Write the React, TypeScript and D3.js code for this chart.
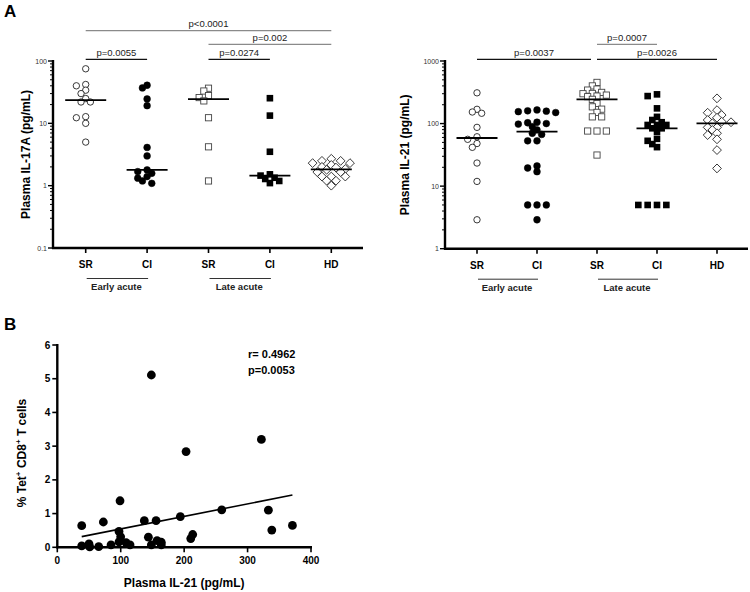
import React from "react";
import * as d3 from "d3";

const FONT = "Arial, 'Liberation Sans', Helvetica, sans-serif";

// ---------- Panel A data ----------
const groupKeys = ["ESR", "ECI", "LSR", "LCI", "HD"];
const groupTickLabels = ["SR", "CI", "SR", "CI", "HD"];
const groupMarkers = ["circleOpen", "circleFilled", "squareOpen", "squareFilled", "diamondOpen"];
const phases = [
  { label: "Early acute", from: "ESR", to: "ECI" },
  { label: "Late acute", from: "LSR", to: "LCI" },
];

const il17EarlySR = [75, 42, 40, 34, 30, 25, 22, 22, 12.8, 12.3, 10, 5];
const il17EarlyCI = [40.8, 37, 24.6, 19.2, 4.1, 3.0, 1.79, 1.68, 1.58, 1.4, 1.32, 1.19, 1.09];
const il17LateSR = [36.6, 33, 27.9, 25.9, 22.9, 12.3, 4.2, 1.19];
const il17LateCI = [25.3, 13.3, 3.5, 1.52, 1.45, 1.34, 1.28, 1.19, 1.1];
const il17HD = [2.7, 2.5, 2.5, 2.3, 2.3, 2.15, 2.0, 1.95, 1.85, 1.8, 1.65, 1.65, 1.4, 1.4, 1.4, 1.2, 1.2, 1.0];
const il17Ticks = [0.1, 1, 10, 100];
const il17Brackets = [
  { from: "ESR", to: "HD", label: "p<0.0001", level: 0, gray: true },
  { from: "LSR", to: "HD", label: "p=0.002", level: 1, gray: true },
  { from: "ESR", to: "ECI", label: "p=0.0055", level: 2, gray: false },
  { from: "LSR", to: "LCI", label: "p=0.0274", level: 2, gray: false },
];

const il21EarlySR = [310, 169, 153, 146, 87, 61.5, 56, 48, 41.7, 23.4, 11.9, 2.9];
const il21EarlyCI = [165, 160, 158, 155, 150, 105, 103, 100, 98, 89, 79, 70, 67, 53, 53, 21, 19.5, 17, 5, 5, 5, 2.9];
const il21LateSR = [455, 400, 356, 343, 315, 303, 300, 285, 275, 269, 244, 210, 185, 170, 151, 128, 128, 76, 76, 76, 31.4];
const il21LateCI = [293, 275, 175, 128, 114, 105, 95, 95, 95, 84, 84, 74, 57, 53, 47, 42, 5, 5, 5, 5];
const il21HD = [253, 164, 149, 137, 124, 114, 107, 105, 101, 87, 87, 79, 70, 65.5, 56, 37.7, 19.2];
const il21Ticks = [1, 10, 100, 1000];
const il21Brackets = [
  { from: "ESR", to: "LSR", label: "p=0.0037", level: 2, gray: false },
  { from: "LSR", to: "LCI", label: "p=0.0007", level: 1, gray: true },
  { from: "LSR", to: "HD", label: "p=0.0026", level: 2, gray: false },
];

// ---------- Panel B data ----------
const bIl21 = [148.3, 321.8, 203, 98.9, 259.3, 332.8, 194, 137.2, 155.7, 72.6, 38.5, 370.7, 338.2, 97.3, 99.9, 143.6, 213.5, 210.4, 97.3, 157.3, 164, 38.5, 50, 51.1, 65.3, 84.7, 108.4, 114.7, 148.3, 164];
const bTet = [5.11, 3.2, 2.84, 1.38, 1.11, 1.1, 0.91, 0.79, 0.79, 0.75, 0.64, 0.65, 0.51, 0.47, 0.31, 0.3, 0.38, 0.26, 0.16, 0.2, 0.15, 0.04, 0.1, 0.01, 0.02, 0.07, 0.14, 0.07, 0.07, 0.07];
const bXTicks = [0, 100, 200, 300, 400];
const bYTicks = [0, 1, 2, 3, 4, 5, 6];
const bStats = ["r= 0.4962", "p=0.0053"];

const levelY = [30.7, 44.3, 59.3];

function swarm(values: number[], yScale: any, step: number, D: number) {
  const pts = values.map((v, i) => ({ v, i, y: yScale(v), dx: 0 })).sort((a, b) => b.v - a.v);
  const placed: any[] = [];
  const ks = [0];
  for (let k = 1; k < 12; k++) ks.push(-k, k);
  for (const p of pts) {
    for (const k of ks) {
      const dx = k * step;
      if (placed.every((q) => (q.dx - dx) ** 2 + (q.y - p.y) ** 2 >= D * D)) {
        p.dx = dx;
        break;
      }
    }
    placed.push(p);
  }
  return pts;
}

function Marker({ type, x, y }: { type: string; x: number; y: number }) {
  const stroke = "#222";
  if (type === "circleOpen") return <circle cx={x} cy={y} r={3.2} fill="#fff" stroke={stroke} strokeWidth={0.9} />;
  if (type === "circleFilled") return <circle cx={x} cy={y} r={3.4} fill="#000" stroke="#000" strokeWidth={0.5} />;
  if (type === "squareOpen") return <rect x={x - 3.1} y={y - 3.1} width={6.2} height={6.2} fill="#fff" stroke="#444" strokeWidth={0.9} />;
  if (type === "squareFilled") return <rect x={x - 3.3} y={y - 3.3} width={6.6} height={6.6} fill="#000" />;
  return <path d={`M${x},${y - 4.4}L${x + 4.4},${y}L${x},${y + 4.4}L${x - 4.4},${y}Z`} fill="#fff" stroke="#222" strokeWidth={0.9} />;
}

function DotPanel({ x0, x1, yTop, yBot, domain, ticks, series, brackets, yTitle, titleX }: any) {
  const x = d3.scalePoint<string>().domain(groupKeys).range([x0 + 2, x1]).padding(0.5);
  const y = d3.scaleLog().domain(domain).range([yBot, yTop]);
  const minor: number[] = [];
  for (let d = domain[0]; d < domain[1]; d *= 10) for (let m = 2; m <= 9; m++) minor.push(d * m);
  return (
    <g>
      {brackets.map((b: any, i: number) => {
        const xa = x(b.from)!;
        let xb = x(b.to)!;
        if (brackets.some((o: any) => o !== b && o.level === b.level && o.from === b.to)) xb -= 6;
        const ly = levelY[b.level];
        const col = b.gray ? "#8a8a8a" : "#111";
        return (
          <g key={i}>
            <line x1={xa} x2={xb} y1={ly} y2={ly} stroke={col} strokeWidth={1.2} />
            <text x={(xa + xb) / 2} y={ly - 3.5} textAnchor="middle" fontSize={9.5} fill="#222" fontFamily={FONT}>
              {b.label}
            </text>
          </g>
        );
      })}
      <line x1={x0} x2={x0} y1={yTop - 1} y2={yBot + 1} stroke="#000" strokeWidth={2.4} />
      {minor.map((m, i) => (
        <line key={i} x1={x0 - 3} x2={x0} y1={y(m)} y2={y(m)} stroke="#000" strokeWidth={1} />
      ))}
      {ticks.map((t: number) => (
        <g key={t}>
          <line x1={x0 - 5} x2={x0} y1={y(t)} y2={y(t)} stroke="#000" strokeWidth={1.4} />
          <text x={x0 - 6} y={y(t) + 2.5} textAnchor="end" fontSize={7} fill="#333" fontFamily={FONT}>
            {String(t)}
          </text>
        </g>
      ))}
      <text
        transform={`translate(${titleX},${(yTop + yBot) / 2}) rotate(-90)`}
        textAnchor="middle"
        fontSize={12}
        fontWeight="bold"
        fontFamily={FONT}
      >
        {yTitle}
      </text>
      <line x1={x0 - 1} x2={x1 + 1} y1={yBot} y2={yBot} stroke="#000" strokeWidth={2.4} />
      {groupKeys.map((g, i) => (
        <g key={g}>
          <line x1={x(g)} x2={x(g)} y1={yBot} y2={yBot + 5} stroke="#000" strokeWidth={1.6} />
          <text x={x(g)} y={yBot + 20} textAnchor="middle" fontSize={10} fontWeight="bold" fontFamily={FONT}>
            {groupTickLabels[i]}
          </text>
        </g>
      ))}
      {phases.map((p) => (
        <g key={p.label}>
          <line x1={x(p.from)! + 1} x2={x(p.to)! + 1} y1={yBot + 30.5} y2={yBot + 30.5} stroke="#333" strokeWidth={1} />
          <text x={(x(p.from)! + x(p.to)!) / 2} y={yBot + 42} textAnchor="middle" fontSize={9.5} fontWeight="bold" fontFamily={FONT} fill="#222">
            {p.label}
          </text>
        </g>
      ))}
      {series.map((vals: number[], gi: number) => {
        const cx = x(groupKeys[gi])!;
        const pts = swarm(vals, y, 4.67, 5.35);
        const med = d3.median(vals)!;
        return (
          <g key={gi}>
            {pts.map((p: any) => (
              <Marker key={p.i} type={groupMarkers[gi]} x={cx + p.dx} y={p.y} />
            ))}
            <line x1={cx - 20.5} x2={cx + 20.5} y1={y(med)} y2={y(med)} stroke="#000" strokeWidth={1.8} />
          </g>
        );
      })}
    </g>
  );
}

function ScatterPanel() {
  const x = d3.scaleLinear().domain([0, 400]).range([57.3, 311]);
  const y = d3.scaleLinear().domain([0, 6]).range([547.3, 345]);
  const mx = d3.mean(bIl21)!;
  const my = d3.mean(bTet)!;
  let sxy = 0,
    sxx = 0;
  bIl21.forEach((v, i) => {
    sxy += (v - mx) * (bTet[i] - my);
    sxx += (v - mx) ** 2;
  });
  const slope = sxy / sxx;
  const icpt = my - slope * mx;
  const [xmin, xmax] = d3.extent(bIl21) as [number, number];
  const line = d3.line<number>().x((v) => x(v)).y((v) => y(icpt + slope * v));
  return (
    <g>
      <line x1={x(0)} x2={x(0)} y1={y(6) - 1} y2={y(0) + 1} stroke="#000" strokeWidth={2.4} />
      {bYTicks.map((t) => (
        <g key={t}>
          <line x1={x(0) - 5} x2={x(0)} y1={y(t)} y2={y(t)} stroke="#000" strokeWidth={1.6} />
          <text x={x(0) - 7} y={y(t) + 3.5} textAnchor="end" fontSize={10} fontWeight="bold" fontFamily={FONT}>
            {t}
          </text>
        </g>
      ))}
      <line x1={x(0) - 1} x2={x(400) + 1} y1={y(0)} y2={y(0)} stroke="#000" strokeWidth={2.4} />
      {bXTicks.map((t) => (
        <g key={t}>
          <line x1={x(t)} x2={x(t)} y1={y(0)} y2={y(0) + 5} stroke="#000" strokeWidth={1.6} />
          <text x={x(t)} y={y(0) + 17} textAnchor="middle" fontSize={10} fontWeight="bold" fontFamily={FONT}>
            {t}
          </text>
        </g>
      ))}
      <text x={(x(0) + x(400)) / 2} y={587} textAnchor="middle" fontSize={12} fontWeight="bold" fontFamily={FONT}>
        Plasma IL-21 (pg/mL)
      </text>
      <text transform={`translate(25.5,453) rotate(-90)`} textAnchor="middle" fontSize={12} fontWeight="bold" fontFamily={FONT}>
        % Tet<tspan fontSize={8} dy={-5}>+</tspan>
        <tspan dy={5}> CD8</tspan>
        <tspan fontSize={8} dy={-5}>+</tspan>
        <tspan dy={5}> T cells</tspan>
      </text>
      {bTet.map((v, i) => (
        <circle key={i} cx={x(bIl21[i])} cy={y(v)} r={4.4} fill="#000" />
      ))}
      <path d={line([xmin, xmax]) || ""} stroke="#000" strokeWidth={1.6} fill="none" />
      {bStats.map((s, i) => (
        <text key={s} x={248} y={358 + i * 16} fontSize={11} fontWeight="bold" fontFamily={FONT}>
          {s}
        </text>
      ))}
    </g>
  );
}

export default function App() {
  return (
    <svg width={750} height={592} style={{ position: "absolute", left: 0, top: 0, background: "#fff" }} fontFamily={FONT}>
      <rect width={750} height={592} fill="#fff" />
      <text x={4} y={17} fontSize={17} fontWeight="bold" fontFamily={FONT}>
        A
      </text>
      <text x={4} y={330} fontSize={17} fontWeight="bold" fontFamily={FONT}>
        B
      </text>
      <DotPanel
        x0={53}
        x1={362}
        yTop={61}
        yBot={248}
        domain={[0.1, 100]}
        ticks={il17Ticks}
        series={[il17EarlySR, il17EarlyCI, il17LateSR, il17LateCI, il17HD]}
        brackets={il17Brackets}
        yTitle="Plasma IL-17A (pg/mL)"
        titleX={30}
      />
      <DotPanel
        x0={445}
        x1={747}
        yTop={61}
        yBot={248.7}
        domain={[1, 1000]}
        ticks={il21Ticks}
        series={[il21EarlySR, il21EarlyCI, il21LateSR, il21LateCI, il21HD]}
        brackets={il21Brackets}
        yTitle="Plasma IL-21 (pg/mL)"
        titleX={409}
      />
      <ScatterPanel />
    </svg>
  );
}
